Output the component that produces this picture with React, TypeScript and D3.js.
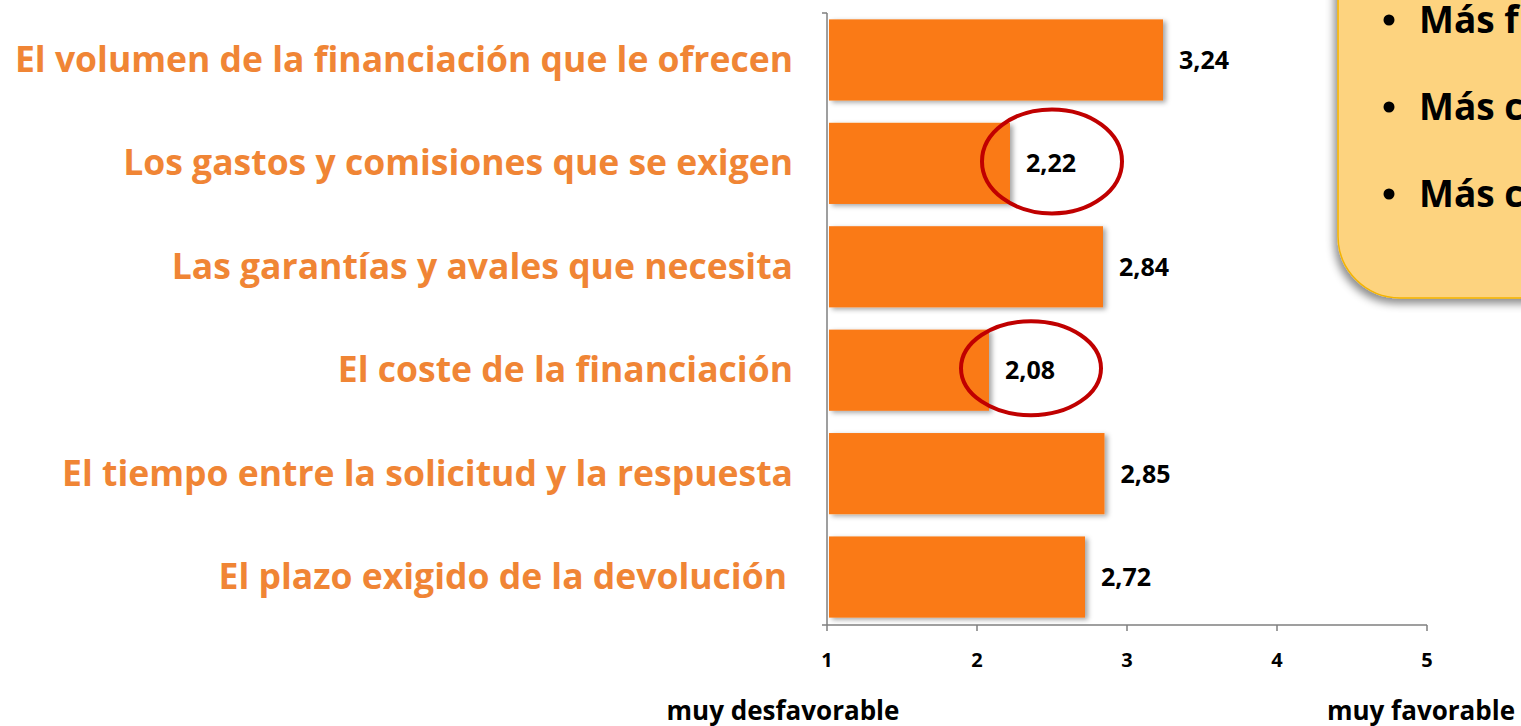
import React from "react";
import { scaleLinear, scaleBand } from "d3";

const categories = [
  "El volumen de la financiación que le ofrecen",
  "Los gastos y comisiones que se exigen",
  "Las garantías y avales que necesita",
  "El coste de la financiación",
  "El tiempo entre la solicitud y la respuesta",
  "El plazo exigido de la devolución",
];
const values = [3.24, 2.22, 2.84, 2.08, 2.85, 2.72];
const ticks = [1, 2, 3, 4, 5];
const circled = [1, 3]; // rows highlighted with a red ellipse
const boxLines = ["Más f", "Más c", "Más c"];

const W = 1521;
const H = 726;
const ORANGE = "#FA7A16";
const LABEL = "#F08535";
const font = "'Open Sans', 'Noto Sans', sans-serif";

export default function App() {
  const x = scaleLinear().domain([1, 5]).range([827, 1427]);
  const y = scaleBand<number>()
    .domain(categories.map((_, i) => i))
    .range([8, 629])
    .paddingInner(0.215)
    .paddingOuter(0.11);
  const axisY = 625;
  const fmt = (v: number) => v.toFixed(2).replace(".", ",");

  return (
    <div style={{ position: "fixed", left: 0, top: 0 }}>
      <svg width={W} height={H} style={{ display: "block", background: "#fff" }}>
        <defs>
          <filter id="barShadow" x="-5%" y="-10%" width="115%" height="130%">
            <feDropShadow dx="3" dy="2" stdDeviation="2.5" floodColor="#000" floodOpacity="0.35" />
          </filter>
          <filter id="boxShadow" x="-20%" y="-20%" width="140%" height="140%">
            <feDropShadow dx="-3" dy="5" stdDeviation="4" floodColor="#000" floodOpacity="0.45" />
          </filter>
        </defs>

        {/* callout box, top right (runs off the page in the original slide) */}
        <rect
          x={1338}
          y={-80}
          width={260}
          height={378}
          rx={62}
          fill="#FDD37F"
          stroke="#F5B400"
          strokeWidth={1.5}
          filter="url(#boxShadow)"
        />
        {boxLines.map((t, i) => (
          <g key={i}>
            <circle cx={1389} cy={20 + i * 87} r={5.5} fill="#000" />
            <text x={1419} y={33 + i * 87} fontFamily={font} fontWeight="bold" fontSize={37} fill="#000">
              {t}
            </text>
          </g>
        ))}

        {/* bars */}
        {values.map((v, i) => (
          <rect
            key={i}
            x={x(1) + 2}
            y={y(i)}
            width={x(v) - x(1) - 2}
            height={y.bandwidth()}
            fill={ORANGE}
            filter="url(#barShadow)"
          />
        ))}

        {/* value labels */}
        {values.map((v, i) => (
          <text
            key={i}
            x={x(v) + 16}
            y={(y(i) ?? 0) + y.bandwidth() / 2 + 9}
            fontFamily={font}
            fontWeight="bold"
            fontSize={25}
            fill="#000"
          >
            {fmt(v)}
          </text>
        ))}

        {/* highlight ellipses */}
        {circled.map((i) => (
          <ellipse
            key={i}
            cx={x(values[i]) + 42}
            cy={(y(i) ?? 0) + y.bandwidth() / 2 - 2}
            rx={70}
            ry={i === 1 ? 52 : 47}
            fill="none"
            stroke="#C00000"
            strokeWidth={4}
          />
        ))}

        {/* category labels */}
        {categories.map((c, i) => (
          <text
            key={i}
            x={i === 5 ? 787 : 793}
            y={(y(i) ?? 0) + y.bandwidth() / 2 + 12}
            textAnchor="end"
            fontFamily={font}
            fontWeight="bold"
            fontSize={35.5}
            fill={LABEL}
          >
            {c}
          </text>
        ))}

        {/* axes */}
        <g stroke="#7f7f7f" strokeWidth={1.5} fill="none">
          <line x1={x(1)} x2={x(1)} y1={13} y2={axisY} />
          <line x1={x(1) - 5} x2={x(1)} y1={13} y2={13} />
          <line x1={x(1) - 5} x2={x(5)} y1={axisY} y2={axisY} />
          {ticks.map((t) => (
            <line key={t} x1={x(t)} x2={x(t)} y1={axisY} y2={axisY + 6} />
          ))}
        </g>
        {ticks.map((t) => (
          <text
            key={t}
            x={x(t)}
            y={667}
            textAnchor="middle"
            fontFamily={font}
            fontWeight="bold"
            fontSize={20}
            fill="#000"
          >
            {t}
          </text>
        ))}
        <text x={783} y={720} textAnchor="middle" fontFamily={font} fontWeight="bold" fontSize={26} fill="#000">
          muy desfavorable
        </text>
        <text x={1421} y={720} textAnchor="middle" fontFamily={font} fontWeight="bold" fontSize={26} fill="#000">
          muy favorable
        </text>
      </svg>
    </div>
  );
}
